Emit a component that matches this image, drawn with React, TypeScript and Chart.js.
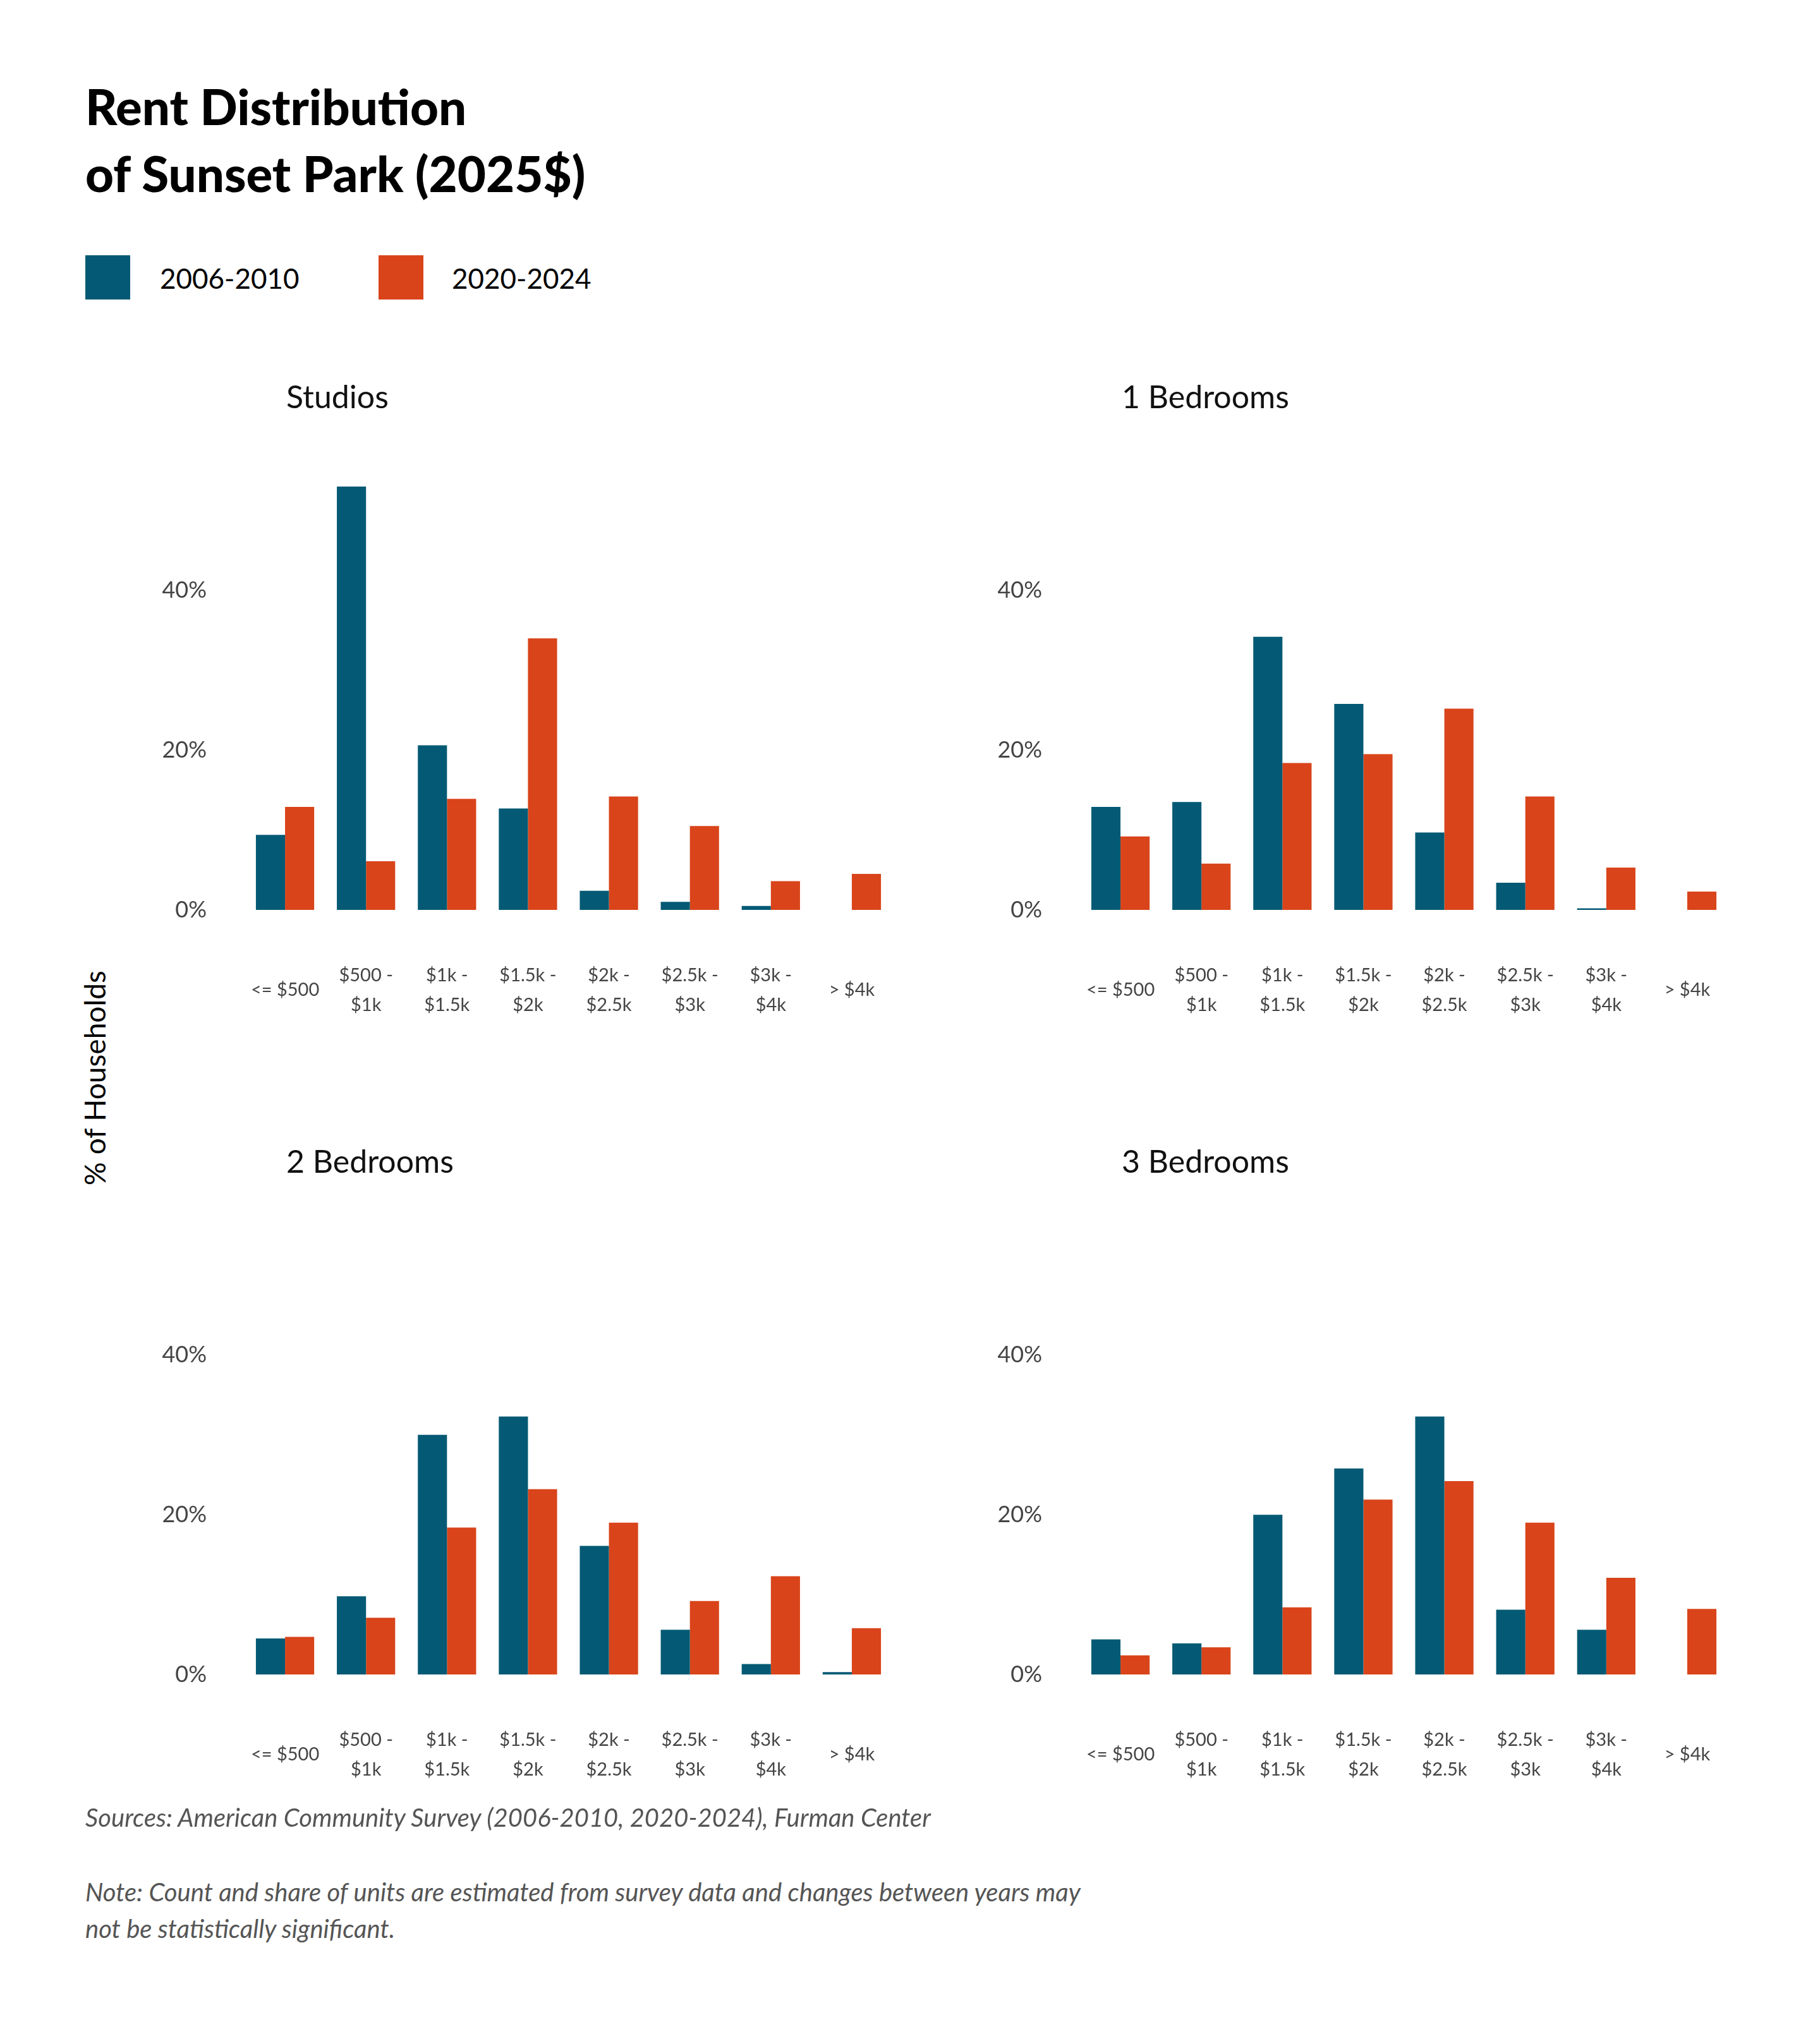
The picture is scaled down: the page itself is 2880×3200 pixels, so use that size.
import React, { useEffect, useRef } from "react";
import { Chart, registerables } from "chart.js";
Chart.register(...registerables);

const categories = [["<= $500"], ["$500 -", "$1k"], ["$1k -", "$1.5k"], ["$1.5k -", "$2k"], ["$2k -", "$2.5k"], ["$2.5k -", "$3k"], ["$3k -", "$4k"], ["> $4k"]];
const seriesNames = ["2006-2010", "2020-2024"];
const colors = ["#045a74", "#d9441a"];
const yTicks = [0, 20, 40];

const studios2006 = [9.4, 53, 20.6, 12.7, 2.4, 1.0, 0.5, 0];
const studios2020 = [12.9, 6.1, 13.9, 34, 14.2, 10.5, 3.6, 4.5];
const bed1_2006 = [12.9, 13.5, 34.2, 25.8, 9.7, 3.4, 0.2, 0];
const bed1_2020 = [9.2, 5.8, 18.4, 19.5, 25.2, 14.2, 5.3, 2.3];
const bed2_2006 = [4.5, 9.8, 30, 32.3, 16.1, 5.6, 1.3, 0.3];
const bed2_2020 = [4.7, 7.1, 18.4, 23.2, 19, 9.2, 12.3, 5.8];
const bed3_2006 = [4.4, 3.9, 20, 25.8, 32.3, 8.1, 5.6, 0];
const bed3_2020 = [2.4, 3.4, 8.4, 21.9, 24.2, 19, 12.1, 8.2];

const panels = [
  { title: "Studios", a: studios2006, b: studios2020 },
  { title: "1 Bedrooms", a: bed1_2006, b: bed1_2020 },
  { title: "2 Bedrooms", a: bed2_2006, b: bed2_2020 },
  { title: "3 Bedrooms", a: bed3_2006, b: bed3_2020 },
];

const FONT = "Lato, 'Open Sans', sans-serif";

const xLabelPlugin = {
  id: "xlabels",
  afterDraw(chart: any) {
    const ctx = chart.ctx;
    const sx = chart.scales.x;
    const base = chart.chartArea.bottom + 127;
    const lh = 47;
    ctx.save();
    ctx.font = `29px ${FONT}`;
    ctx.fillStyle = "#444";
    ctx.textAlign = "center";
    ctx.textBaseline = "middle";
    categories.forEach((lines, i) => {
      const x = sx.getPixelForValue(i);
      const start = base - ((lines.length - 1) * lh) / 2;
      lines.forEach((l, j) => ctx.fillText(l, x, start + j * lh));
    });
    ctx.restore();
  },
};

function Panel({ p, col, row }: any) {
  const ref = useRef<HTMLCanvasElement>(null);
  useEffect(() => {
    const chart = new Chart(ref.current!, {
      type: "bar",
      data: {
        labels: categories.map((c) => c.join(" ")),
        datasets: [
          { label: seriesNames[0], data: p.a, backgroundColor: colors[0], categoryPercentage: 0.72, barPercentage: 1 },
          { label: seriesNames[1], data: p.b, backgroundColor: colors[1], categoryPercentage: 0.72, barPercentage: 1 },
        ],
      },
      options: {
        animation: false,
        responsive: false,
        devicePixelRatio: 1,
        layout: { padding: { top: 81, right: 28, left: 0, bottom: 0 } },
        plugins: { legend: { display: false }, tooltip: { enabled: false } },
        scales: {
          x: {
            grid: { display: false, drawTicks: false },
            border: { display: false },
            ticks: { display: false },
            afterFit: (s: any) => { s.height = 260; },
          },
          y: {
            min: 0,
            max: 60,
            grid: { display: false, drawTicks: false },
            border: { display: false },
            afterBuildTicks: (s: any) => { s.ticks = yTicks.map((v) => ({ value: v })); },
            ticks: { padding: 60, color: "#444", font: { size: 36, family: FONT }, callback: (v: any) => v + "%" },
            afterFit: (s: any) => { s.width = 237; },
          },
        },
      },
      plugins: [xLabelPlugin],
    });
    return () => chart.destroy();
  }, []);
  const left = 150 + col * 1322;
  const top = 600 + row * 1210;
  return (
    <>
      <canvas ref={ref} width={1290} height={1100} style={{ position: "absolute", left, top, width: 1290, height: 1100 }} />
      <div style={{ position: "absolute", left: 453 + col * 1322, top: 627 + row * 1210 - 32, fontSize: 50, fontFamily: FONT, color: "#111", lineHeight: "64px" }}>{p.title}</div>
    </>
  );
}

export default function App() {
  return (
    <div style={{ position: "absolute", left: 0, top: 0, width: 2880, height: 3200, background: "#fff", fontFamily: FONT }}>
      <div style={{ position: "absolute", left: 135, top: 115, fontSize: 78, fontWeight: 900, lineHeight: "106px", color: "#000" }}>
        Rent Distribution<br />of Sunset Park (2025$)
      </div>
      <div style={{ position: "absolute", left: 135, top: 404, width: 71, height: 70, background: colors[0] }} />
      <div style={{ position: "absolute", left: 253, top: 412, fontSize: 44, lineHeight: "56px" }}>{seriesNames[0]}</div>
      <div style={{ position: "absolute", left: 599, top: 404, width: 71, height: 70, background: colors[1] }} />
      <div style={{ position: "absolute", left: 715, top: 412, fontSize: 44, lineHeight: "56px" }}>{seriesNames[1]}</div>
      <div style={{ position: "absolute", left: 149, top: 1706, transform: "translate(-50%,-50%) rotate(-90deg)", fontSize: 46, whiteSpace: "nowrap" }}>% of Households</div>
      {panels.map((p, i) => <Panel key={i} p={p} col={i % 2} row={Math.floor(i / 2)} />)}
      <div style={{ position: "absolute", left: 135, top: 2852, fontSize: 40, fontStyle: "italic", color: "#555" }}>
        Sources: American Community Survey (2006-2010, 2020-2024), Furman Center
      </div>
      <div style={{ position: "absolute", left: 135, top: 2965, fontSize: 40, fontStyle: "italic", color: "#555", lineHeight: "58px", width: 1900 }}>
        Note: Count and share of units are estimated from survey data and changes between years may<br />not be statistically significant.
      </div>
    </div>
  );
}
